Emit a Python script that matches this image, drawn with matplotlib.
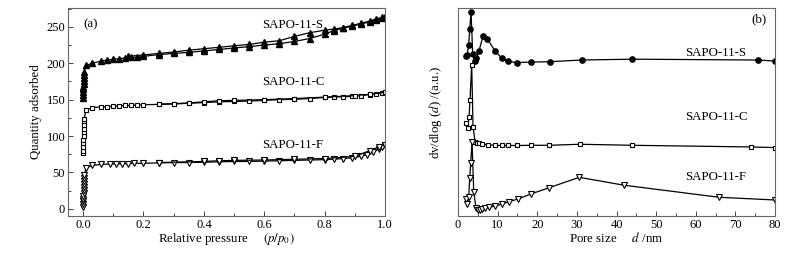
import matplotlib.pyplot as plt
from matplotlib.ticker import MultipleLocator

plt.rcParams['font.family'] = ['Liberation Serif', 'DejaVu Serif']
plt.rcParams['mathtext.fontset'] = 'stix'
plt.rcParams['font.size'] = 9.3
plt.rcParams['xtick.labelsize'] = 9
plt.rcParams['ytick.labelsize'] = 9

# (a) N2 isotherms: adsorption (ads) and desorption (des) branches
s_ads_p = [0.0, 0.0003, 0.0006, 0.0009, 0.0012, 0.0015, 0.0018, 0.002, 0.0025, 0.003, 0.01, 0.03, 0.06, 0.08,
           0.1, 0.12, 0.14, 0.16, 0.18, 0.2, 0.25, 0.3, 0.35, 0.4, 0.45, 0.5, 0.55, 0.6, 0.65, 0.7,
           0.75, 0.8, 0.83, 0.86, 0.89, 0.92, 0.95, 0.97, 0.99, 1.0]
s_ads_q = [152, 156, 160, 164, 168, 172, 176, 180, 184, 188, 197, 200, 203, 204.5,
           205.5, 206.5, 207, 208, 208.5, 209.5, 212, 213.5, 215, 217, 219, 221, 223, 225, 227, 230,
           234, 240, 245, 248, 251, 254, 257, 260, 262, 264]
s_des_p = [1.0, 0.99, 0.97, 0.95, 0.92, 0.89, 0.86, 0.83, 0.8, 0.75, 0.7, 0.65, 0.6, 0.55, 0.5,
           0.45, 0.4, 0.35, 0.3, 0.25, 0.2, 0.15]
s_des_q = [264, 263, 261, 258, 255, 252, 249, 247, 245.5, 242, 237, 231, 229, 226, 224,
           222, 220, 218, 215.5, 213.5, 211.5, 209.5]

c_ads_p = [0.0, 0.0003, 0.0006, 0.0009, 0.0012, 0.0015, 0.0018, 0.002, 0.0025, 0.003, 0.0035, 0.01, 0.03,
           0.06, 0.08, 0.1, 0.12, 0.14, 0.16, 0.18, 0.2, 0.25, 0.3, 0.35, 0.4, 0.45, 0.5, 0.55, 0.6,
           0.65, 0.7, 0.75, 0.8, 0.83, 0.86, 0.89, 0.92, 0.95, 0.97, 0.99, 1.0]
c_ads_q = [76, 80, 85, 90, 95, 100, 105, 110, 115, 120, 124, 136, 139,
           140, 140.5, 141, 141.5, 142, 142, 142.5, 143, 143.5, 144, 145, 146, 147, 147.5, 148, 149,
           150, 150.5, 151.5, 153, 153.5, 154, 154.5, 155.5, 157, 158, 159.5, 160]
c_des_p = [1.0, 0.95, 0.9, 0.8, 0.7, 0.6, 0.5, 0.45, 0.4, 0.35, 0.3, 0.25]
c_des_q = [160, 157.5, 155.5, 153.5, 151.5, 150, 149, 148.5, 147, 145.5, 144.5, 144]

f_ads_p = [0.0, 0.0003, 0.0006, 0.0009, 0.0012, 0.0015, 0.0018, 0.002, 0.0025, 0.003, 0.0035, 0.004, 0.01,
           0.03, 0.06, 0.09, 0.11, 0.13, 0.15, 0.17, 0.2, 0.25, 0.3, 0.35, 0.4, 0.45, 0.5, 0.55, 0.6,
           0.65, 0.7, 0.75, 0.8, 0.83, 0.86, 0.89, 0.92, 0.94, 0.96, 0.98, 0.99, 1.0]
f_ads_q = [2, 6, 10, 14, 18, 22, 26, 30, 34, 38, 42, 47, 56,
           59.5, 61, 61.5, 61.5, 62, 62, 62.5, 62.5, 63, 63.5, 63.5, 64, 64.5, 65, 65, 65.5,
           66, 66.5, 67, 67.5, 68, 69, 70, 72, 74.5, 78, 82, 85, 87]
f_des_p = [1.0, 0.98, 0.95, 0.9, 0.8, 0.7, 0.6, 0.5, 0.45, 0.4, 0.25]
f_des_q = [88, 85, 80, 72, 69, 68, 67, 66.5, 66, 65, 63.5]

# (b) pore size distributions (arbitrary units)
s_d = [1.94, 2.3, 2.7, 2.95, 3.3, 3.7, 4.2, 4.6, 5.3, 6.3, 7.4, 9.3, 11.0, 12.6, 15.0, 18.3, 23.3,
       31.2, 44.0, 75.6, 80.0]
s_v = [76.7, 77.5, 82.3, 90.0, 97.9, 77.8, 74.6, 75.9, 79.5, 86.4, 85.1, 79.5, 75.9, 74.3, 73.8,
       74.0, 74.2, 75.0, 75.4, 75.0, 74.5]
c_d = [2.02, 2.44, 2.78, 3.03, 3.45, 3.79, 4.29, 4.88, 5.39, 6.15, 7.5, 9.34, 11.0, 12.5, 15.0,
       18.3, 23.0, 30.7, 44.0, 73.9, 80.0]
c_v = [44.6, 42.5, 47.4, 55.9, 72.7, 43.0, 35.8, 35.3, 35.0, 34.7, 34.2, 34.0, 33.9, 33.9, 33.9,
       34.0, 34.0, 34.5, 34.0, 33.2, 32.9]
f_d = [1.94, 2.37, 2.7, 2.95, 3.2, 3.54, 3.96, 4.55, 5.06, 5.65, 6.15, 6.82, 7.83, 9.43, 11.2,
       12.9, 15.2, 18.4, 23.0, 30.6, 41.9, 65.9, 80.0]
f_v = [8.0, 5.8, 9.3, 18.1, 25.4, 35.8, 11.7, 3.7, 2.9, 2.7, 3.2, 3.7, 4.2, 4.8, 5.8,
       6.9, 8.2, 10.6, 13.6, 18.6, 14.8, 9.0, 7.7]

fig = plt.figure(figsize=(7.89, 2.57), dpi=100)
ax1 = fig.add_axes([0.0862, 0.1595, 0.4018, 0.8093])
ax2 = fig.add_axes([0.5805, 0.1595, 0.4018, 0.8093])

lk = dict(color='black', lw=0.9)
ax1.plot(s_ads_p, s_ads_q, marker='^', ms=4.3, mfc='black', mec='black', **lk)
ax1.plot(s_des_p, s_des_q, marker='^', ms=4.3, mfc='black', mec='black', **lk)
ax1.plot(c_ads_p, c_ads_q, marker='s', ms=3.3, mfc='white', mec='black', mew=0.8, **lk)
ax1.plot(c_des_p, c_des_q, marker='s', ms=3.3, mfc='white', mec='black', mew=0.8, **lk)
ax1.plot(f_ads_p, f_ads_q, marker='v', ms=3.8, mfc='white', mec='black', mew=0.8, **lk)
ax1.plot(f_des_p, f_des_q, marker='v', ms=3.8, mfc='white', mec='black', mew=0.8, **lk)

ax1.set_xlim(-0.05, 1.0)
ax1.set_ylim(-10, 276)
ax1.xaxis.set_major_locator(MultipleLocator(0.2))
ax1.xaxis.set_minor_locator(MultipleLocator(0.1))
ax1.yaxis.set_major_locator(MultipleLocator(50))
ax1.yaxis.set_minor_locator(MultipleLocator(25))
ax1.set_xlabel('Relative pressure     $(p/p_0)$', labelpad=0.5)
ax1.set_ylabel('Quantity adsorbed', labelpad=3)
ax1.text(0.0, 253, '(a)', ha='left', va='center')
ax1.text(0.593, 253, 'SAPO-11-S', ha='left', va='center')
ax1.text(0.593, 174, 'SAPO-11-C', ha='left', va='center')
ax1.text(0.593, 87, 'SAPO-11-F', ha='left', va='center')

ax2.plot(s_d, s_v, marker='o', ms=3.8, mfc='black', mec='black', **lk)
ax2.plot(c_d, c_v, marker='s', ms=3.3, mfc='white', mec='black', mew=0.8, **lk)
ax2.plot(f_d, f_v, marker='v', ms=3.8, mfc='white', mec='black', mew=0.8, **lk)
ax2.set_xlim(0, 80)
ax2.set_ylim(0, 100)
ax2.xaxis.set_major_locator(MultipleLocator(10))
ax2.xaxis.set_minor_locator(MultipleLocator(5))
ax2.set_yticks([])
ax2.set_xlabel('Pore size     $d$ /nm', labelpad=0.5)
ax2.set_ylabel('dv/dlog ($d$) /(a.u.)', labelpad=10)
ax2.text(78, 94.4, '(b)', ha='right', va='center')
ax2.text(57.3, 78.3, 'SAPO-11-S', ha='left', va='center')
ax2.text(57.3, 47.5, 'SAPO-11-C', ha='left', va='center')
ax2.text(57.3, 18.9, 'SAPO-11-F', ha='left', va='center')

for ax in (ax1, ax2):
    for sp in ax.spines.values():
        sp.set_color('#666666')
        sp.set_linewidth(0.8)
    ax.tick_params(which='both', direction='in', color='#444444', width=0.7)
    ax.tick_params(which='major', length=3.5)
    ax.tick_params(which='minor', length=2)
    ax.tick_params(top=False, right=False, pad=2)

fig.savefig('out.png', dpi=100)
